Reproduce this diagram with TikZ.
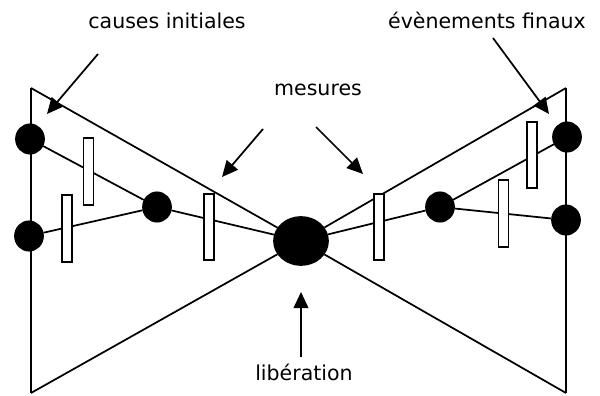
\documentclass[tikz,border=0pt]{standalone}
\usepackage{fontspec}
\setmainfont{DejaVu Sans}
\usetikzlibrary{shapes.geometric, arrows.meta}

\begin{document}
\begin{tikzpicture}[
        x=0.75pt, y=-0.75pt,
        line width=1.3pt,
        event/.style={draw, ellipse, fill=black, minimum width=21pt, minimum height=22pt, inner sep=0pt},
        release/.style={draw, ellipse, fill=black, minimum width=40.5pt, minimum height=36pt, inner sep=0pt},
        barrier/.style={draw, rectangle, fill=white, minimum width=7.5pt, minimum height=50pt, inner sep=0pt},
        caption/.style={anchor=base, inner sep=0pt, font=\fontsize{15.4}{18}\selectfont},
        pointer/.style={-{Triangle[length=12pt, width=11pt]}}
    ]
        \useasboundingbox (0,0) rectangle (600,396);

        % Nodes
        \node[release] (lib) at (301,241) {};
        \node[event] (c1) at (30,139) {};
        \node[event] (c2) at (29,236) {};
        \node[event] (m1) at (157,207) {};
        \node[event] (m2) at (440,207) {};
        \node[event] (f1) at (567,137) {};
        \node[event] (f2) at (566,220) {};

        % Bow-tie outline
        \coordinate (tl) at (31,88);
        \coordinate (bl) at (31,393);
        \coordinate (tr) at (566,88);
        \coordinate (br) at (566,393);
        \draw (tl) -- (bl);
        \draw (tr) -- (br);
        \draw (tl) -- (lib) -- (bl);
        \draw (tr) -- (lib) -- (br);

        % Edges
        \draw (c1) -- (m1);
        \draw (c2) -- (m1);
        \draw (m1) -- (lib);
        \draw (lib) -- (m2);
        \draw (m2) -- (f1);
        \draw (m2) -- (f2);

        % Barriers
        \node[barrier] (b1) at (88.5,171.5) {};
        \node[barrier] (b2) at (67,228.5) {};
        \node[barrier] (b3) at (209,227) {};
        \node[barrier] (b4) at (379,227) {};
        \node[barrier] (b5) at (503.5,213.5) {};
        \node[barrier] (b6) at (532,155) {};

        % Labels
        \node[caption] (causes) at (167,28) {causes initiales};
        \node[caption] (finaux) at (487,28) {évènements finaux};
        \node[caption] (mesures) at (318,95) {mesures};
        \node[caption] (liberation) at (304,380) {libération};

        % Arrows
        \coordinate (pc) at (98,54);
        \coordinate (pct) at (47,114);
        \coordinate (pf) at (493,38);
        \coordinate (pft) at (549,114);
        \coordinate (pm1) at (263,129);
        \coordinate (pm1t) at (222,177);
        \coordinate (pm2) at (316,127);
        \coordinate (pm2t) at (363,174);
        \coordinate (pl) at (301,357);
        \coordinate (plt) at (301,292);
        \draw[pointer] (pc) -- (pct);
        \draw[pointer] (pf) -- (pft);
        \draw[pointer] (pm1) -- (pm1t);
        \draw[pointer] (pm2) -- (pm2t);
        \draw[pointer] (pl) -- (plt);
    \end{tikzpicture}
\end{document}
